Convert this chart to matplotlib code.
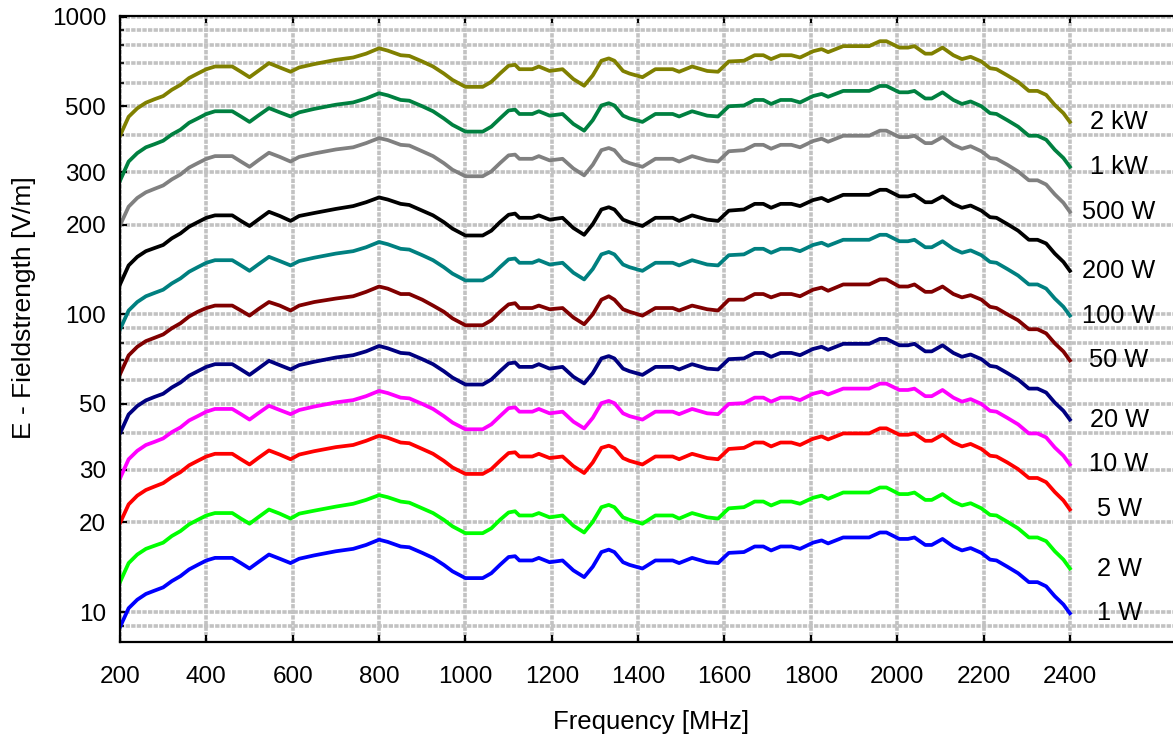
import matplotlib
matplotlib.use("Agg")
import matplotlib.pyplot as plt

plt.rcParams['font.family'] = ['Liberation Sans', 'DejaVu Sans']

# Measurement frequencies [MHz]
freq_mhz = [200, 220, 240, 260, 280, 300, 320, 340, 360, 380, 400, 420,
            460, 480, 500, 520, 545, 570, 595, 615, 650, 700, 740, 770, 800,
            820, 850, 870, 900, 925, 950, 970, 1000,
            1040, 1060, 1080, 1100, 1115, 1125, 1155, 1170, 1195, 1225, 1250,
            1275, 1295, 1315, 1332, 1345, 1365, 1380, 1410, 1440, 1480, 1495,
            1525, 1560, 1585, 1610, 1645, 1670, 1690, 1708, 1730, 1755, 1775,
            1805, 1825, 1840, 1875, 1935, 1960, 1975, 2005, 2025, 2040, 2065,
            2080, 2105, 2130, 2150, 2170, 2195, 2215, 2230, 2255, 2280, 2305,
            2325, 2345, 2365, 2385, 2400]

# Field strength [V/m] for each amplifier power level
e_2kw = [398, 461, 492, 514, 528, 541, 568, 590, 622, 644, 666, 680, 680, 653, 626, 657, 698, 675, 653, 675, 693, 716, 729, 751, 783, 769, 742, 738, 707, 680, 644, 613, 581, 581, 604, 644, 684, 689, 666, 666, 680, 657, 666, 617, 586, 635, 711, 724, 711, 657, 644, 626, 666, 666, 653, 680, 657, 653, 707, 711, 742, 742, 720, 742, 742, 729, 765, 778, 760, 796, 796, 827, 827, 787, 787, 796, 751, 751, 787, 742, 720, 733, 707, 671, 666, 635, 604, 563, 563, 546, 505, 474, 443]
e_1kw = [281, 326, 348, 364, 373, 383, 402, 417, 440, 455, 471, 481, 481, 462, 443, 465, 493, 477, 462, 477, 490, 506, 515, 531, 553, 544, 525, 522, 500, 481, 455, 433, 411, 411, 427, 455, 484, 487, 471, 471, 481, 465, 471, 436, 414, 449, 503, 512, 503, 465, 455, 443, 471, 471, 462, 481, 465, 462, 500, 503, 525, 525, 509, 525, 525, 515, 541, 550, 538, 563, 563, 585, 585, 557, 557, 563, 531, 531, 557, 525, 509, 519, 500, 474, 471, 449, 427, 398, 398, 386, 357, 335, 313]
e_500w = [199, 230, 246, 257, 264, 271, 284, 295, 311, 322, 333, 340, 340, 326, 313, 329, 349, 338, 326, 338, 347, 358, 364, 376, 391, 385, 371, 369, 353, 340, 322, 306, 291, 291, 302, 322, 342, 344, 333, 333, 340, 329, 333, 309, 293, 318, 356, 362, 356, 329, 322, 313, 333, 333, 326, 340, 329, 326, 353, 356, 371, 371, 360, 371, 371, 364, 382, 389, 380, 398, 398, 414, 414, 394, 394, 398, 376, 376, 394, 371, 360, 367, 353, 335, 333, 318, 302, 282, 282, 273, 253, 237, 221]
e_200w = [126, 146, 156, 163, 167, 171, 180, 187, 197, 204, 211, 215, 215, 206, 198, 208, 221, 214, 206, 214, 219, 226, 231, 238, 247, 243, 235, 233, 223, 215, 204, 194, 184, 184, 191, 204, 216, 218, 211, 211, 215, 208, 211, 195, 185, 201, 225, 229, 225, 208, 204, 198, 211, 211, 206, 215, 208, 206, 223, 225, 235, 235, 228, 235, 235, 231, 242, 246, 240, 252, 252, 262, 262, 249, 249, 252, 238, 238, 249, 235, 228, 232, 223, 212, 211, 201, 191, 178, 178, 173, 160, 150, 140]
e_100w = [89, 103, 110, 115, 118, 121, 127, 132, 139, 144, 149, 152, 152, 146, 140, 147, 156, 151, 146, 151, 155, 160, 163, 168, 175, 172, 166, 165, 158, 152, 144, 137, 130, 130, 135, 144, 153, 154, 149, 149, 152, 147, 149, 138, 131, 142, 159, 162, 159, 147, 144, 140, 149, 149, 146, 152, 147, 146, 158, 159, 166, 166, 161, 166, 166, 163, 171, 174, 170, 178, 178, 185, 185, 176, 176, 178, 168, 168, 176, 166, 161, 164, 158, 150, 149, 142, 135, 126, 126, 122, 113, 106, 99]
e_50w = [62.9, 72.8, 77.8, 81.3, 83.4, 85.6, 89.8, 93.3, 98.3, 102, 105, 107, 107, 103, 99.0, 104, 110, 107, 103, 107, 110, 113, 115, 119, 124, 122, 117, 117, 112, 107, 102, 96.9, 91.9, 91.9, 95.5, 102, 108, 109, 105, 105, 107, 104, 105, 97.6, 92.6, 100, 112, 115, 112, 104, 102, 99.0, 105, 105, 103, 107, 104, 103, 112, 112, 117, 117, 114, 117, 117, 115, 121, 123, 120, 126, 126, 131, 131, 124, 124, 126, 119, 119, 124, 117, 114, 116, 112, 106, 105, 100, 95.5, 89.1, 89.1, 86.3, 79.9, 75.0, 70.0]
e_20w = [39.8, 46.1, 49.2, 51.4, 52.8, 54.1, 56.8, 59.0, 62.2, 64.4, 66.6, 68.0, 68.0, 65.3, 62.6, 65.7, 69.8, 67.5, 65.3, 67.5, 69.3, 71.6, 72.9, 75.1, 78.3, 76.9, 74.2, 73.8, 70.7, 68.0, 64.4, 61.3, 58.1, 58.1, 60.4, 64.4, 68.4, 68.9, 66.6, 66.6, 68.0, 65.7, 66.6, 61.7, 58.6, 63.5, 71.1, 72.4, 71.1, 65.7, 64.4, 62.6, 66.6, 66.6, 65.3, 68.0, 65.7, 65.3, 70.7, 71.1, 74.2, 74.2, 72.0, 74.2, 74.2, 72.9, 76.5, 77.8, 76.0, 79.6, 79.6, 82.7, 82.7, 78.7, 78.7, 79.6, 75.1, 75.1, 78.7, 74.2, 72.0, 73.3, 70.7, 67.1, 66.6, 63.5, 60.4, 56.3, 56.3, 54.6, 50.5, 47.4, 44.3]
e_10w = [28.1, 32.6, 34.8, 36.4, 37.3, 38.3, 40.2, 41.7, 44.0, 45.5, 47.1, 48.1, 48.1, 46.2, 44.3, 46.5, 49.3, 47.7, 46.2, 47.7, 49.0, 50.6, 51.5, 53.1, 55.3, 54.4, 52.5, 52.2, 50.0, 48.1, 45.5, 43.3, 41.1, 41.1, 42.7, 45.5, 48.4, 48.7, 47.1, 47.1, 48.1, 46.5, 47.1, 43.6, 41.4, 44.9, 50.3, 51.2, 50.3, 46.5, 45.5, 44.3, 47.1, 47.1, 46.2, 48.1, 46.5, 46.2, 50.0, 50.3, 52.5, 52.5, 50.9, 52.5, 52.5, 51.5, 54.1, 55.0, 53.8, 56.3, 56.3, 58.5, 58.5, 55.7, 55.7, 56.3, 53.1, 53.1, 55.7, 52.5, 50.9, 51.9, 50.0, 47.4, 47.1, 44.9, 42.7, 39.8, 39.8, 38.6, 35.7, 33.5, 31.3]
e_5w = [19.9, 23.0, 24.6, 25.7, 26.4, 27.1, 28.4, 29.5, 31.1, 32.2, 33.3, 34.0, 34.0, 32.6, 31.3, 32.9, 34.9, 33.8, 32.6, 33.8, 34.7, 35.8, 36.4, 37.6, 39.1, 38.5, 37.1, 36.9, 35.3, 34.0, 32.2, 30.6, 29.1, 29.1, 30.2, 32.2, 34.2, 34.4, 33.3, 33.3, 34.0, 32.9, 33.3, 30.9, 29.3, 31.8, 35.6, 36.2, 35.6, 32.9, 32.2, 31.3, 33.3, 33.3, 32.6, 34.0, 32.9, 32.6, 35.3, 35.6, 37.1, 37.1, 36.0, 37.1, 37.1, 36.4, 38.2, 38.9, 38.0, 39.8, 39.8, 41.4, 41.4, 39.4, 39.4, 39.8, 37.6, 37.6, 39.4, 37.1, 36.0, 36.7, 35.3, 33.5, 33.3, 31.8, 30.2, 28.2, 28.2, 27.3, 25.3, 23.7, 22.1]
e_2w = [12.6, 14.6, 15.6, 16.3, 16.7, 17.1, 18.0, 18.7, 19.7, 20.4, 21.1, 21.5, 21.5, 20.6, 19.8, 20.8, 22.1, 21.4, 20.6, 21.4, 21.9, 22.6, 23.1, 23.8, 24.7, 24.3, 23.5, 23.3, 22.3, 21.5, 20.4, 19.4, 18.4, 18.4, 19.1, 20.4, 21.6, 21.8, 21.1, 21.1, 21.5, 20.8, 21.1, 19.5, 18.5, 20.1, 22.5, 22.9, 22.5, 20.8, 20.4, 19.8, 21.1, 21.1, 20.6, 21.5, 20.8, 20.6, 22.3, 22.5, 23.5, 23.5, 22.8, 23.5, 23.5, 23.1, 24.2, 24.6, 24.0, 25.2, 25.2, 26.2, 26.2, 24.9, 24.9, 25.2, 23.8, 23.8, 24.9, 23.5, 22.8, 23.2, 22.3, 21.2, 21.1, 20.1, 19.1, 17.8, 17.8, 17.3, 16.0, 15.0, 14.0]
e_1w = [8.9, 10.3, 11.0, 11.5, 11.8, 12.1, 12.7, 13.2, 13.9, 14.4, 14.9, 15.2, 15.2, 14.6, 14.0, 14.7, 15.6, 15.1, 14.6, 15.1, 15.5, 16.0, 16.3, 16.8, 17.5, 17.2, 16.6, 16.5, 15.8, 15.2, 14.4, 13.7, 13.0, 13.0, 13.5, 14.4, 15.3, 15.4, 14.9, 14.9, 15.2, 14.7, 14.9, 13.8, 13.1, 14.2, 15.9, 16.2, 15.9, 14.7, 14.4, 14.0, 14.9, 14.9, 14.6, 15.2, 14.7, 14.6, 15.8, 15.9, 16.6, 16.6, 16.1, 16.6, 16.6, 16.3, 17.1, 17.4, 17.0, 17.8, 17.8, 18.5, 18.5, 17.6, 17.6, 17.8, 16.8, 16.8, 17.6, 16.6, 16.1, 16.4, 15.8, 15.0, 14.9, 14.2, 13.5, 12.6, 12.6, 12.2, 11.3, 10.6, 9.9]

power_labels = ["2 kW", "1 kW", "500 W", "200 W", "100 W", "50 W",
                "20 W", "10 W", "5 W", "2 W", "1 W"]
series = [e_2kw, e_1kw, e_500w, e_200w, e_100w, e_50w,
          e_20w, e_10w, e_5w, e_2w, e_1w]
colors = ["#808000", "#008040", "#808080", "#000000", "#008080", "#800000",
          "#000080", "#ff00ff", "#ff0000", "#00ff00", "#0000ff"]

x_ticks = [200, 400, 600, 800, 1000, 1200, 1400, 1600, 1800, 2000, 2200, 2400]
y_major = [10, 20, 30, 50, 100, 200, 300, 500, 1000]
y_minor = [9, 40, 60, 70, 80, 90, 400, 600, 700, 800, 900]

W, H = 1173, 740
fig = plt.figure(figsize=(W / 100, H / 100), dpi=100)
ax = fig.add_axes([120 / W, 98 / H, 1060 / W, 626 / H])
ax.set_yscale('log')
ax.set_xlim(200, 2655)
ax.set_ylim(7.93, 1005)

grid_style = dict(color='#c2c2c2', linewidth=2.6, linestyle=(0, (1.2, 0.35)))
ax.set_xticks(x_ticks)
ax.set_xticklabels([str(t) for t in x_ticks])
ax.set_yticks(y_major)
ax.set_yticklabels([str(t) for t in y_major])
ax.set_yticks(y_minor, minor=True)
ax.set_yticklabels([], minor=True)
ax.xaxis.grid(True, which='major', **grid_style)
ax.yaxis.grid(True, which='both', **grid_style)
ax.set_axisbelow(True)

ax.tick_params(axis='x', which='major', direction='in', top=True, bottom=True,
               length=5, width=1.5, labelsize=17.5, pad=17)
ax.tick_params(axis='y', which='major', direction='in', left=True, right=False,
               length=5, width=1.5, labelsize=17.5, pad=10)
ax.tick_params(axis='y', which='minor', direction='in', left=True, right=False,
               length=3, width=1.2)

for s in ['left', 'top', 'bottom']:
    ax.spines[s].set_linewidth(1.6)
ax.spines['right'].set_visible(False)

for values, color, label in zip(series, colors, power_labels):
    ax.plot(freq_mhz, values, color=color, linewidth=2.7, solid_joinstyle='round')
    ax.text(2514, values[-1], label, ha='center', va='center', fontsize=18.3,
            color='black', clip_on=False)

fig.text(651 / W, 1 - 722 / H, "Frequency [MHz]", ha='center', va='center', fontsize=18.5)
fig.text(24 / W, 1 - 308 / H, "E - Fieldstrength [V/m]", ha='center', va='center',
         rotation=90, fontsize=19)

fig.savefig("out.png", dpi=100)
